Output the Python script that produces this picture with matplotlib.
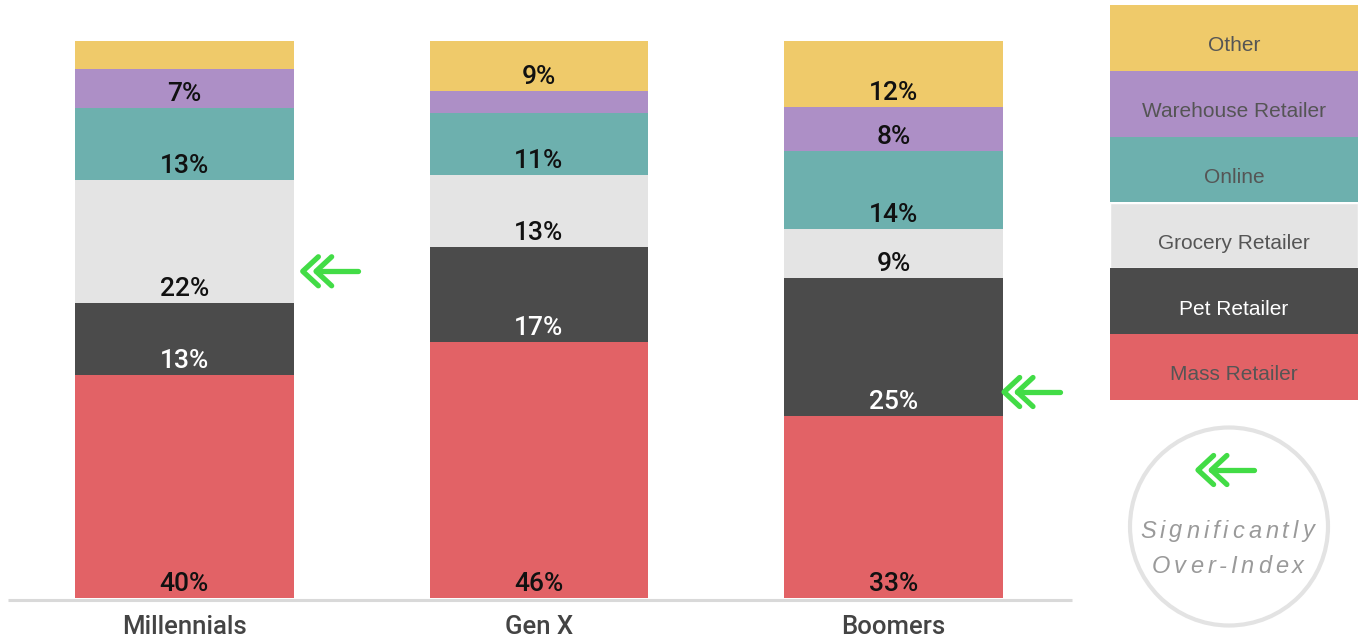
import matplotlib
matplotlib.use("Agg")
import matplotlib.pyplot as plt
from matplotlib.patches import Rectangle, Circle
from matplotlib.lines import Line2D
from matplotlib.font_manager import FontProperties
from matplotlib.textpath import TextToPath
import numpy as np

# ---- data -------------------------------------------------------------
groups = ["Millennials", "Gen X", "Boomers"]
channels = ["Mass Retailer", "Pet Retailer", "Grocery Retailer",
            "Online", "Warehouse Retailer", "Other"]
mass_retailer = [40, 46, 33]
pet_retailer = [13, 17, 25]
grocery_retailer = [22, 13, 9]
online = [13, 11, 14]
warehouse_retailer = [7, 4, 8]
other = [5, 9, 12]
# (group index, channel) pairs that significantly over-index
over_index = [(0, "Grocery Retailer"), (2, "Pet Retailer")]

# ---- style ------------------------------------------------------------
colors = {
    "Mass Retailer": "#E26266",
    "Pet Retailer": "#4B4B4B",
    "Grocery Retailer": "#E4E4E4",
    "Online": "#6DB0AE",
    "Warehouse Retailer": "#AD8FC6",
    "Other": "#EFCA6A",
}
legend_text_color = {c: "#555555" for c in channels}
legend_text_color["Pet Retailer"] = "#FFFFFF"
label_color = {c: "#111111" for c in channels}
label_color["Pet Retailer"] = "#FFFFFF"
green = "#42DC46"
min_label = 6

W, H, DPI = 1361, 641, 100
fig = plt.figure(figsize=(W / DPI, H / DPI), dpi=DPI)
fig.patch.set_facecolor("white")

# bar axes (data units: percent of each stack)
ax = fig.add_axes([7 / W, (H - 598) / H, 1064 / W, 557 / H])
ax.set_xlim(-0.5, 2.5)
ax.set_ylim(0, 100)
ax.axis("off")

# overlay axes in pixel coordinates (origin top-left)
pix = fig.add_axes([0, 0, 1, 1])
pix.set_xlim(0, W)
pix.set_ylim(H, 0)
pix.axis("off")

series = {
    "Mass Retailer": mass_retailer,
    "Pet Retailer": pet_retailer,
    "Grocery Retailer": grocery_retailer,
    "Online": online,
    "Warehouse Retailer": warehouse_retailer,
    "Other": other,
}
vals = np.array([series[c] for c in channels], dtype=float)
totals = vals.sum(axis=0)
shares = vals / totals * 100.0

x = np.arange(len(groups))
bar_w = 0.617
bottoms = np.zeros(len(groups))
seg_bottom = {}
for ci, ch in enumerate(channels):
    ax.bar(x, shares[ci], bottom=bottoms, width=bar_w, color=colors[ch],
           linewidth=0)
    for gi in range(len(groups)):
        seg_bottom[(gi, ch)] = bottoms[gi]
        v = vals[ci, gi]
        if v >= min_label:
            ax.annotate(f"{int(v)}%", (x[gi], bottoms[gi]),
                        xytext=(0, 5.0), textcoords="offset points",
                        ha="center", va="baseline", fontsize=19,
                        family="Roboto", fontweight="medium",
                        color=label_color[ch])
    bottoms = bottoms + shares[ci]

# baseline
pix.add_line(Line2D([8, 1072], [599.5, 599.5], color="#D9D9D9", lw=2.2,
                    solid_capstyle="butt"))

# group names
for gi, g in enumerate(groups):
    px_x = ax.transData.transform((x[gi], 0))[0]
    pix.text(px_x, 634, g, ha="center", va="baseline", fontsize=18.5,
             family="Roboto", fontweight="medium", color="#444444")


def double_arrow(tip_x, tip_y):
    """Double chevron pointing left with a tail, in pixel coordinates."""
    kw = dict(color=green, lw=3.8, solid_capstyle="round",
              solid_joinstyle="round")
    for dx in (0, 13.3):
        pix.add_line(Line2D([tip_x + dx + 15.6, tip_x + dx, tip_x + dx + 15.6],
                            [tip_y - 14.5, tip_y, tip_y + 14.5], **kw))
    pix.add_line(Line2D([tip_x + 13.3, tip_x + 55.6], [tip_y, tip_y], **kw))


arrow_offsets = {0: (9, 31.5), 2: (1, 24)}
for gi, ch in over_index:
    right = ax.transData.transform((x[gi] + bar_w / 2, seg_bottom[(gi, ch)]))
    dx, dy = arrow_offsets[gi]
    double_arrow(right[0] + dx, (H - right[1]) - dy)

# legend boxes
lx0, lx1, ly0, ly1 = 1110, 1358, 5, 400
bh = (ly1 - ly0) / len(channels)
for k, ch in enumerate(reversed(channels)):
    top = ly0 + k * bh
    edge = "white" if ch == "Grocery Retailer" else "none"
    pix.add_patch(Rectangle((lx0, top), lx1 - lx0, bh, facecolor=colors[ch],
                            edgecolor=edge, lw=1.0))
    pix.text((lx0 + lx1) / 2, top + bh - 19.5, ch, ha="center",
             va="baseline", fontsize=15, family="Liberation Sans",
             color=legend_text_color[ch])

# significance key
pix.add_patch(Circle((1229, 526.5), 99, facecolor="white",
                     edgecolor="#E3E3E3", lw=3.0))
double_arrow(1198, 470)

ttp = TextToPath()
key_prop = FontProperties(family="Liberation Sans", style="italic", size=17)


def tracked_text(cx, baseline, s, tracking_px):
    scale = DPI / 72.0
    lefts = [ttp.get_text_width_height_descent(s[:i], key_prop, ismath=False)[0]
             * scale + i * tracking_px if i else 0.0 for i in range(len(s))]
    total = ttp.get_text_width_height_descent(s, key_prop, ismath=False)[0] \
        * scale + (len(s) - 1) * tracking_px
    x0 = cx - total / 2
    for ch, lft in zip(s, lefts):
        pix.text(x0 + lft, baseline, ch, ha="left", va="baseline",
                 fontproperties=key_prop, color="#9A9A9A")


tracked_text(1227, 537.5, "Significantly", 4.0)
tracked_text(1228, 573, "Over-Index", 4.0)

fig.savefig("out.png", dpi=DPI, facecolor="white")
